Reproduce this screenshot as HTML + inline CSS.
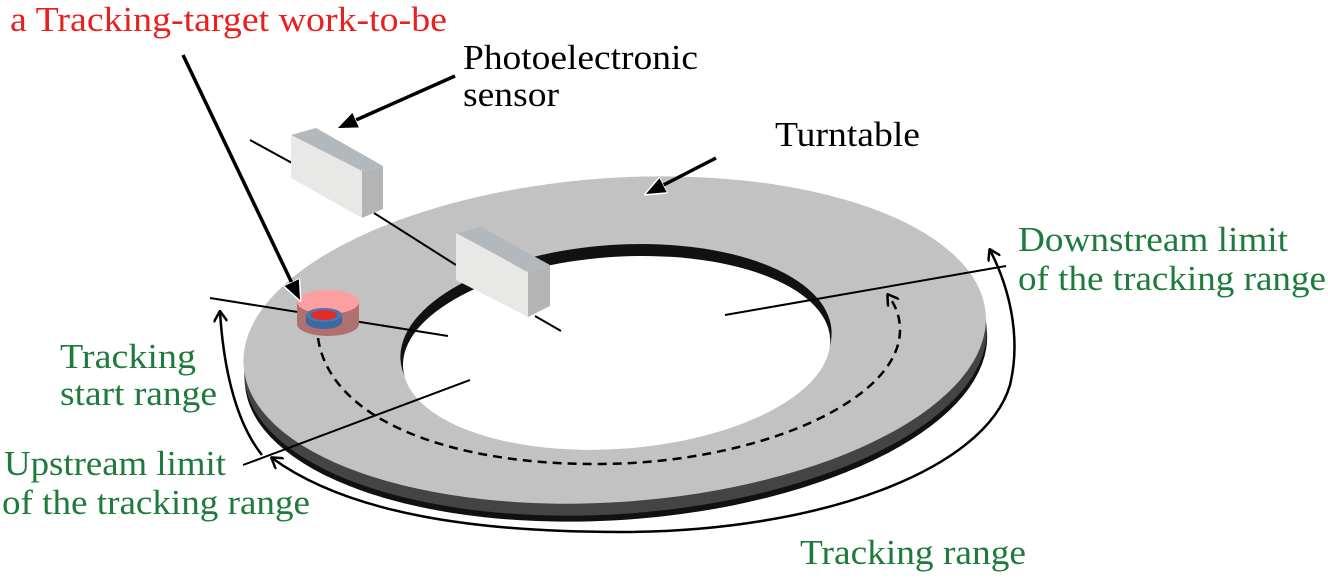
<!DOCTYPE html>
<html><head><style>
body{margin:0;background:#fff;width:1328px;height:579px;overflow:hidden}
svg{display:block}
text{font-family:"Liberation Serif",serif;font-size:35px}
.g{fill:#1e7b3c}
</style></head><body>
<svg width="1328" height="579" viewBox="0 0 1328 579">
<defs>
<marker id="ah" markerWidth="12" markerHeight="14" refX="10" refY="7" orient="auto-start-reverse" markerUnits="userSpaceOnUse"><path d="M0,0 L11,7 L0,14" fill="none" stroke="#000" stroke-width="2.5"/></marker>
<marker id="af" markerWidth="22" markerHeight="18" refX="20" refY="9" orient="auto" markerUnits="userSpaceOnUse"><path d="M0,0 L22,9 L0,18 z" fill="#000" stroke="#fff" stroke-width="1.5"/></marker>
</defs>
<!-- turntable -->
<g transform="rotate(-4 615 345)">
<ellipse cx="615" cy="358" rx="372" ry="162" fill="#111"/>
<ellipse cx="615" cy="352" rx="372" ry="162" fill="#444"/>
<ellipse cx="615" cy="340" rx="372" ry="162" fill="#c2c2c2"/>
<ellipse cx="616" cy="345" rx="216" ry="100" fill="#111"/>
<ellipse cx="616" cy="353" rx="214" ry="96" fill="#fff"/>
</g>
<!-- dashed path -->
<path d="M318,338 C330,420 450,465 600,464 C760,463 900,400 900,330 C900,315 895,305 888,295" fill="none" stroke="#000" stroke-width="2.5" stroke-dasharray="9,6" marker-end="url(#ah)"/>
<!-- outer arcs -->
<path d="M262,455 C238,425 224,375 220,312" fill="none" stroke="#000" stroke-width="2.5" marker-end="url(#ah)"/>
<path d="M272,458 C350,515 480,532 620,532 C820,532 985,470 1010,385 C1022,335 1008,285 990,250" fill="none" stroke="#000" stroke-width="2.5" marker-start="url(#ah)" marker-end="url(#ah)"/>
<!-- lines -->
<line x1="250" y1="140" x2="292" y2="163" stroke="#000" stroke-width="2"/>
<line x1="374" y1="213" x2="456" y2="265" stroke="#000" stroke-width="2"/>
<line x1="535" y1="316" x2="561" y2="331" stroke="#000" stroke-width="2"/>
<line x1="210" y1="298" x2="448" y2="336" stroke="#000" stroke-width="2"/>
<line x1="725" y1="315" x2="1006" y2="266" stroke="#000" stroke-width="2"/>
<line x1="470" y1="380" x2="243" y2="465" stroke="#000" stroke-width="2"/>
<!-- sensor 1 -->
<polygon points="291,135 316,128 383,166 362,171" fill="#b3b8bd"/>
<polygon points="291,135 362,171 362,218 291,178" fill="#e8e8e6"/>
<polygon points="362,171 383,166 383,209 362,218" fill="#b4b4b4"/>
<!-- sensor 2 -->
<polygon points="456,233 481,227 550,265 528,272" fill="#b3b8bd"/>
<polygon points="456,233 528,272 528,317 456,280" fill="#e8e8e6"/>
<polygon points="528,272 550,265 550,306 528,317" fill="#b4b4b4"/>
<!-- puck -->
<path d="M297,302 L297,324 A31,12 0 0 0 359,324 L359,302 z" fill="#b07070"/>
<ellipse cx="328" cy="302" rx="31" ry="12" fill="#ff9e9e"/>
<path d="M306,315 L306,322 A18,7 0 0 0 342,322 L342,315 z" fill="#3a6aa0"/>
<ellipse cx="324" cy="315" rx="18" ry="7" fill="#4a76b0"/>
<ellipse cx="324" cy="315" rx="13" ry="5" fill="#e52a2a"/>
<!-- pointer arrows -->
<line x1="183" y1="55" x2="300" y2="300" stroke="#000" stroke-width="3.5" marker-end="url(#af)"/>
<line x1="455" y1="76" x2="338" y2="128" stroke="#000" stroke-width="3.5" marker-end="url(#af)"/>
<line x1="716" y1="158" x2="646" y2="194" stroke="#000" stroke-width="3.5" marker-end="url(#af)"/>
<!-- text -->
<text x="10" y="31" fill="#e8201e" textLength="437" lengthAdjust="spacingAndGlyphs">a Tracking-target work-to-be</text>
<text x="463" y="69" textLength="235" lengthAdjust="spacingAndGlyphs">Photoelectronic</text>
<text x="463" y="106" textLength="96" lengthAdjust="spacingAndGlyphs">sensor</text>
<text x="775" y="146" textLength="145" lengthAdjust="spacingAndGlyphs">Turntable</text>
<text class="g" x="1018" y="251" textLength="270" lengthAdjust="spacingAndGlyphs">Downstream limit</text>
<text class="g" x="1018" y="290" textLength="308" lengthAdjust="spacingAndGlyphs">of the tracking range</text>
<text class="g" x="60" y="368" textLength="136" lengthAdjust="spacingAndGlyphs">Tracking</text>
<text class="g" x="60" y="405" textLength="157" lengthAdjust="spacingAndGlyphs">start range</text>
<text class="g" x="4" y="475" textLength="222" lengthAdjust="spacingAndGlyphs">Upstream limit</text>
<text class="g" x="2" y="514" textLength="308" lengthAdjust="spacingAndGlyphs">of the tracking range</text>
<text class="g" x="800" y="564" textLength="226" lengthAdjust="spacingAndGlyphs">Tracking range</text>
</svg>
</body></html>
